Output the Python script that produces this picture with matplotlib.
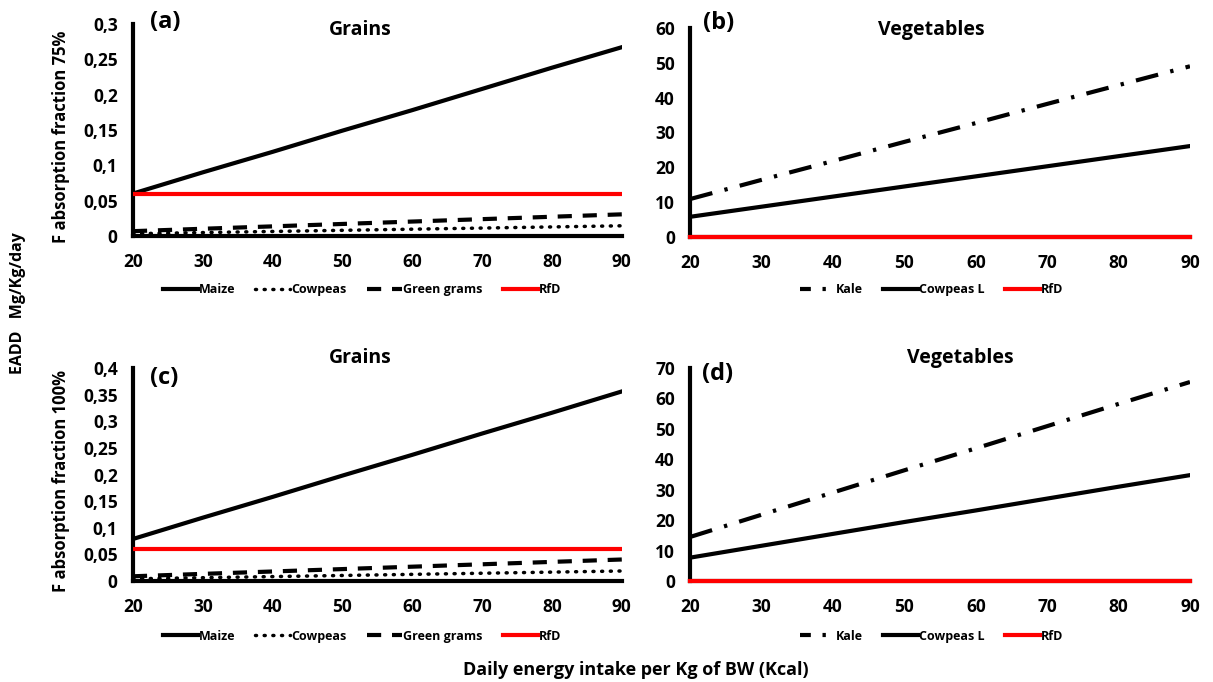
import matplotlib
matplotlib.use('Agg')
import matplotlib.pyplot as plt
from matplotlib.ticker import FuncFormatter, MultipleLocator

plt.rcParams['font.family'] = ['Open Sans', 'DejaVu Sans']
plt.rcParams['font.weight'] = 'bold'

# intake per kg BW (Kcal)
intake = [20, 30, 40, 50, 60, 70, 80, 90]

# grains, absorption fraction 75%
maize_75 = [0.060, 0.090, 0.119, 0.149, 0.178, 0.208, 0.238, 0.267]
cowpeas_75 = [0.0032, 0.0048, 0.0064, 0.0080, 0.0096, 0.0112, 0.0128, 0.0144]
green_75 = [0.0068, 0.0102, 0.0136, 0.0170, 0.0204, 0.0238, 0.0272, 0.0306]
# vegetables, 75%
kale_75 = [10.9, 16.4, 21.8, 27.3, 32.7, 38.2, 43.6, 49.0]
cowpeasL_75 = [5.8, 8.7, 11.6, 14.5, 17.4, 20.3, 23.2, 26.1]

# grains, 100%
maize_100 = [0.079, 0.119, 0.158, 0.198, 0.237, 0.277, 0.316, 0.356]
cowpeas_100 = [0.0042, 0.0063, 0.0084, 0.0105, 0.0126, 0.0147, 0.0168, 0.0189]
green_100 = [0.0090, 0.0135, 0.0180, 0.0225, 0.0270, 0.0315, 0.0360, 0.0405]
# vegetables, 100%
kale_100 = [14.5, 21.8, 29.1, 36.4, 43.6, 50.9, 58.2, 65.4]
cowpeasL_100 = [7.7, 11.6, 15.5, 19.4, 23.2, 27.1, 31.0, 34.8]

rfd = [0.06] * len(intake)

fig = plt.figure(figsize=(12.13, 6.82), dpi=100)
ax_a = fig.add_axes([0.1096, 0.654, 0.403, 0.311])
ax_b = fig.add_axes([0.569, 0.6525, 0.412, 0.3065])
ax_c = fig.add_axes([0.1096, 0.148, 0.403, 0.3124])
ax_d = fig.add_axes([0.569, 0.148, 0.412, 0.3124])

comma = FuncFormatter(lambda v, p: ('%g' % round(v, 4)).replace('.', ','))

leg_kw = dict(loc='center', frameon=False, handlelength=2.8, columnspacing=1.6,
              handletextpad=0.1, prop={'size': 9, 'weight': 'bold'})


def style(ax, ymax, step):
    ax.set_xlim(20, 90)
    ax.set_ylim(0, ymax)
    ax.xaxis.set_major_locator(MultipleLocator(10))
    ax.yaxis.set_major_locator(MultipleLocator(step))
    ax.yaxis.set_major_formatter(comma)
    for s in ['top', 'right']:
        ax.spines[s].set_visible(False)
    for s in ['left', 'bottom']:
        ax.spines[s].set_linewidth(3)
        ax.spines[s].set_zorder(1)
    ax.tick_params(length=0, labelsize=12.5)
    ax.tick_params(axis='x', pad=12)
    ax.tick_params(axis='y', pad=11)
    for lab in ax.get_xticklabels() + ax.get_yticklabels():
        lab.set_fontweight('bold')


def grains(ax, maize, cow, green, ymax, step, leg_y):
    ax.plot(intake, maize, color='black', lw=3, label='Maize')
    ax.plot(intake, cow, color='black', lw=2.5, ls=(0, (0.3, 2.2)),
            dash_capstyle='round', label='Cowpeas')
    ax.plot(intake, green, color='black', lw=3, ls=(0, (3.4, 2.6)), label='Green grams')
    ax.plot(intake, rfd, color='#ff0000', lw=3, label='RfD')
    style(ax, ymax, step)
    ax.legend(ncol=4, bbox_to_anchor=(0.2984, leg_y), bbox_transform=fig.transFigure,
              **leg_kw)


def vegs(ax, kale, cowl, ymax, step, leg_y):
    ax.plot(intake, kale, color='black', lw=3, ls=(0, (5.5, 3, 0.8, 3)), label='Kale')
    ax.plot(intake, cowl, color='black', lw=3, label='Cowpeas L')
    ax.plot(intake, rfd, color='#ff0000', lw=3, label='RfD', zorder=3, clip_on=False)
    style(ax, ymax, step)
    leg = ax.legend(ncol=3, bbox_to_anchor=(0.768, leg_y), bbox_transform=fig.transFigure,
                    **leg_kw)
    # shorter dash in the legend so the dot shows, as in the original
    leg.get_lines()[0].set_linestyle((0, (2.6, 2.8, 0.8, 2.8)))


grains(ax_a, maize_75, cowpeas_75, green_75, 0.3, 0.05, 0.5748)
vegs(ax_b, kale_75, cowpeasL_75, 60, 10, 0.5748)
grains(ax_c, maize_100, cowpeas_100, green_100, 0.4, 0.05, 0.0674)
vegs(ax_d, kale_100, cowpeasL_100, 70, 10, 0.0674)

# panel titles
fig.text(0.2968, 0.956, 'Grains', fontsize=14, fontweight='bold', ha='center', va='center')
fig.text(0.7675, 0.956, 'Vegetables', fontsize=14, fontweight='bold', ha='center', va='center')
fig.text(0.2968, 0.475, 'Grains', fontsize=14, fontweight='bold', ha='center', va='center')
fig.text(0.7914, 0.475, 'Vegetables', fontsize=14, fontweight='bold', ha='center', va='center')

# panel tags
fig.text(0.1237, 0.968, '(a)', fontsize=17, fontweight='bold', va='center')
fig.text(0.5796, 0.966, '(b)', fontsize=17, fontweight='bold', va='center')
fig.text(0.1237, 0.4457, '(c)', fontsize=17, fontweight='bold', va='center')
fig.text(0.5787, 0.4516, '(d)', fontsize=17, fontweight='bold', va='center')

fig.text(0.05, 0.799, 'F absorption fraction 75%', rotation=90, fontsize=12,
         fontweight='bold', ha='center', va='center')
fig.text(0.05, 0.295, 'F absorption fraction 100%', rotation=90, fontsize=12,
         fontweight='bold', ha='center', va='center')
fig.text(0.015, 0.556, 'EADD   Mg/Kg/day', rotation=90, fontsize=11.5,
         fontweight='bold', ha='center', va='center')
fig.text(0.524, 0.0176, 'Daily energy intake per Kg of BW (Kcal)', fontsize=13,
         fontweight='bold', ha='center', va='center')

fig.savefig('out.png', dpi=100)
